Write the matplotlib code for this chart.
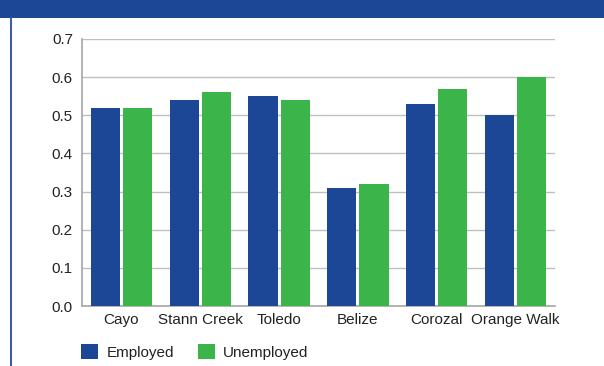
import matplotlib
matplotlib.use("Agg")
import matplotlib.pyplot as plt
import numpy as np

districts = ["Cayo", "Stann Creek", "Toledo", "Belize", "Corozal", "Orange Walk"]
employed = [0.52, 0.54, 0.55, 0.31, 0.53, 0.50]
unemployed = [0.52, 0.56, 0.54, 0.32, 0.57, 0.60]
yticks = [0.0, 0.1, 0.2, 0.3, 0.4, 0.5, 0.6, 0.7]
series_names = ["Employed", "Unemployed"]

plt.rcParams["font.family"] = ["Liberation Sans", "DejaVu Sans"]

BLUE = "#1c4797"
GREEN = "#3bb54a"
W, H = 604, 366
fig = plt.figure(figsize=(W / 100, H / 100), dpi=100)

# top band and left border
fig.add_artist(plt.Rectangle((0, 1 - 18 / H), 1, 18 / H, transform=fig.transFigure,
                             color=BLUE, lw=0))
fig.add_artist(plt.Line2D([11 / W, 11 / W], [0, 1 - 18 / H], transform=fig.transFigure,
                          color="#3a5fa8", lw=1.5))

ax = fig.add_axes([82 / W, 1 - 306 / H, (555 - 82) / W, (306 - 39) / H])
x = np.arange(len(districts))
bw = 0.37
ax.bar(x - bw / 2 - 0.02, employed, bw, color=BLUE, label=series_names[0], zorder=3)
ax.bar(x + bw / 2 + 0.02, unemployed, bw, color=GREEN, label=series_names[1], zorder=3)
ax.set_xlim(-0.5, len(districts) - 0.5)
ax.set_ylim(0, 0.7)
ax.set_yticks(yticks)
ax.set_yticklabels([f"{v:.1f}" for v in yticks])
ax.set_xticks(x)
ax.set_xticklabels(districts)
ax.grid(axis="y", color="#bfbfbf", lw=1, zorder=0)
for s in ["top", "right"]:
    ax.spines[s].set_visible(False)
for s in ["left", "bottom"]:
    ax.spines[s].set_color("#a6a6a6")
    ax.spines[s].set_linewidth(1.2)
ax.tick_params(axis="y", length=0, labelsize=11, pad=6.5, labelcolor="#222222")
ax.tick_params(axis="x", length=0, labelsize=11, pad=5, labelcolor="#222222")

leg = fig.legend(loc="lower left", bbox_to_anchor=(81 / W, 6 / H), ncol=2, frameon=False,
                 fontsize=11, handlelength=1.12, handleheight=1.12, columnspacing=1.55,
                 handletextpad=0.55, borderpad=0, borderaxespad=0, labelcolor="#222222")
fig.savefig("out.png", dpi=100)
